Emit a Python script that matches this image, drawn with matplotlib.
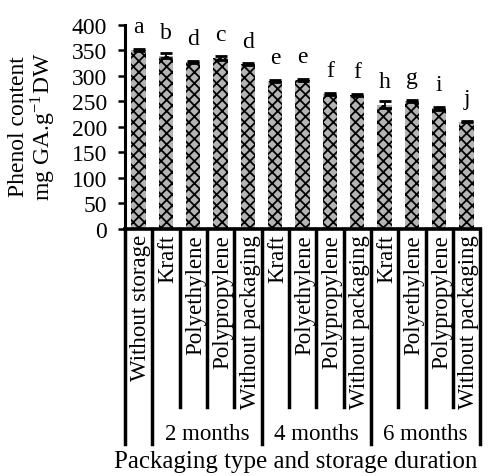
import matplotlib
matplotlib.use('Agg')
import matplotlib.pyplot as plt
import numpy as np

plt.rcParams.update({
    'font.family': 'Liberation Serif', 'font.size': 16,
    'mathtext.fontset': 'stix',
    'hatch.linewidth': 1.3,
})

categories = ['Without storage',
              'Kraft', 'Polyethylene', 'Polypropylene', 'Without packaging',
              'Kraft', 'Polyethylene', 'Polypropylene', 'Without packaging',
              'Kraft', 'Polyethylene', 'Polypropylene', 'Without packaging']
phenol = [351, 340, 327, 335, 323, 290, 292, 265, 263, 244, 251, 237, 210]
errors = [1.5, 5, 1.5, 4, 1.5, 1.5, 1.5, 1.5, 1.5, 7, 1.5, 3, 1]
letters = ['a', 'b', 'd', 'c', 'd', 'e', 'e', 'f', 'f', 'h', 'g', 'i', 'j']
groups = ['2 months', '4 months', '6 months']
group_bounds = [(0.5, 4.5), (4.5, 8.5), (8.5, 12.5)]

fig = plt.figure(figsize=(4.88, 4.77), dpi=100)
ax = fig.add_axes([0.256, 0.518, 0.728, 0.4275])

x = np.arange(len(phenol))
ax.bar(x, phenol, 0.52, color='#b4b4b4', edgecolor='black', hatch='xxx', linewidth=0)
ax.errorbar(x, phenol, yerr=errors, fmt='none', ecolor='black', capsize=4.5,
            elinewidth=1.3, capthick=2)
for xi, v, lt in zip(x, phenol, letters):
    ax.text(xi, v + 25, lt, ha='center', va='bottom', fontsize=17)

ax.set_xlim(-0.5, len(phenol) - 0.5)
ax.set_ylim(0, 400)
ax.set_yticks(np.arange(0, 401, 50))
ax.tick_params(axis='y', direction='out', length=5, width=1.8, pad=8, labelsize=17)
ax.set_xticks([])
for s in ['top', 'right']:
    ax.spines[s].set_visible(False)
ax.spines['left'].set_linewidth(2.2)
ax.spines['bottom'].set_linewidth(2.6)

trans = ax.get_xaxis_transform()
long_lines = [-0.5, 0.5, 4.5, 8.5, 12.5]
for b in np.arange(-0.5, len(phenol), 1.0):
    bottom = -1.054 if b in long_lines else -0.873
    ax.plot([b, b], [0, bottom], color='black', lw=2.5, transform=trans, clip_on=False)

for xi, c in zip(x, categories):
    ax.text(xi + 0.08, -0.025, c, rotation=90, ha='center', va='top', fontsize=16.5,
            transform=trans)
for g, (a, b) in zip(groups, group_bounds):
    ax.text((a + b) / 2, -1.005, g, ha='center', va='center', fontsize=16.5, transform=trans)

ax.text(0.48, -1.14, 'Packaging type and storage duration', ha='center', va='center',
        fontsize=18, transform=ax.transAxes)
fig.text(0.037, 0.735, 'Phenol content', rotation=90, ha='center', va='center', fontsize=17)
fig.text(0.088, 0.735, 'mg GA.g$^{\\mathregular{-1}}$DW', rotation=90, ha='center',
         va='center', fontsize=17)

plt.savefig('out.png', dpi=100)
plt.close()
